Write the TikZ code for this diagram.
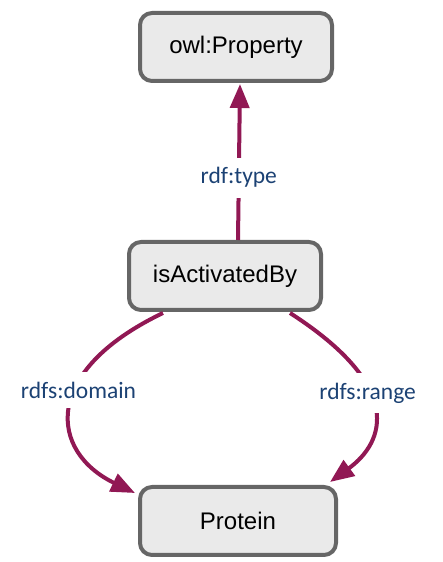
\documentclass[tikz,border=0pt]{standalone}
\usepackage{fontspec}
\setmainfont{Liberation Sans}
\newfontfamily\labelfont{Carlito}
\usetikzlibrary{arrows.meta}
\definecolor{edgecol}{RGB}{145,24,84}
\definecolor{labcol}{RGB}{28,66,116}
\definecolor{boxfill}{RGB}{234,234,234}
\definecolor{boxline}{RGB}{102,102,102}
\begin{document}
\begin{tikzpicture}[x=1pt,y=1pt,
  classbox/.style={draw=boxline, fill=boxfill, line width=4pt, rounded corners=12pt,
    minimum width=192pt, minimum height=68pt, inner sep=0pt,
    font=\fontsize{24}{28}\selectfont},
  rel/.style={draw=edgecol, line width=4pt, -{Triangle[length=24pt,width=19pt]}},
  rellabel/.style={fill=white, text=labcol, inner xsep=2pt, inner ysep=10pt,
    font=\labelfont\fontsize{23.5}{26}\selectfont}]
\useasboundingbox (0,0) rectangle (442,562);

\node[classbox] (prop) at (236,515) {owl:Property};
\node[classbox] (act)  at (225,286) {isActivatedBy};
\node[classbox, minimum width=196pt] (prot) at (238,41) {Protein};

% rdf:type
\draw[rel] ([xshift=13pt]act.north) -- ([xshift=4pt,yshift=-1pt]prop.south)
  node[rellabel, pos=0.4] {rdf:type};

% rdfs:domain
\draw[rel] ([xshift=-62pt,yshift=-1pt]act.south)
  .. controls (40,190) and (50,110) .. ([xshift=-3pt,yshift=-8pt]prot.north west)
  node[rellabel, pos=0.4, xshift=3pt] {rdfs:domain};

% rdfs:range
\draw[rel] ([xshift=65pt,yshift=-1pt]act.south)
  .. controls (405,175) and (385,120) .. ([xshift=-8pt,yshift=3pt]prot.north east)
  node[rellabel, pos=0.4, xshift=-2pt] {rdfs:range};
\end{tikzpicture}
\end{document}
